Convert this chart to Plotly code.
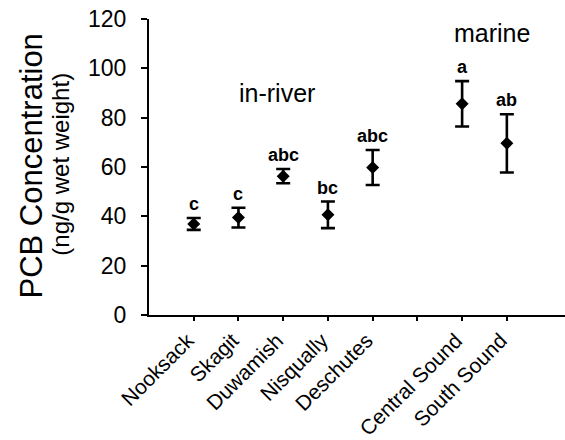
import plotly.graph_objects as go

categories = ["Nooksack", "Skagit", "Duwamish", "Nisqually", "Deschutes", "", "Central Sound", "South Sound"]
positions = [1, 2, 3, 4, 5, 7, 8]
site_names = ["Nooksack", "Skagit", "Duwamish", "Nisqually", "Deschutes", "Central Sound", "South Sound"]
pcb_mean = [36.9, 39.5, 56.3, 40.6, 59.8, 85.6, 69.6]
pcb_se = [2.4, 4.0, 2.9, 5.4, 7.1, 9.2, 11.8]
group_letters = ["c", "c", "abc", "bc", "abc", "a", "ab"]
y_ticks = [0, 20, 40, 60, 80, 100, 120]

FONT = "Liberation Sans, Arial, sans-serif"

fig = go.Figure()
fig.add_trace(go.Scatter(
    x=positions, y=pcb_mean, mode="markers",
    marker=dict(symbol="diamond", size=10, color="black"),
    error_y=dict(type="data", array=pcb_se, visible=True, color="black",
                 thickness=2.6, width=7),
    text=site_names, hoverinfo="text+y", showlegend=False,
))

annotations = []
for xp, m, e, lab in zip(positions, pcb_mean, pcb_se, group_letters):
    annotations.append(dict(x=xp, y=m + e, xref="x", yref="y", text="<b>%s</b>" % lab,
                            showarrow=False, yanchor="bottom", yshift=2,
                            font=dict(family=FONT, size=18, color="black")))

annotations.append(dict(x=2.87, y=90.2, xref="x", yref="y", text="in-river", showarrow=False,
                        font=dict(family=FONT, size=25, color="black")))
annotations.append(dict(x=7.67, y=114.5, xref="x", yref="y", text="marine", showarrow=False,
                        font=dict(family=FONT, size=25, color="black")))

annotations.append(dict(x=0, y=0.5017, xref="paper", yref="paper", xshift=-118,
                        text="PCB Concentration", textangle=-90, showarrow=False,
                        xanchor="center", yanchor="middle",
                        font=dict(family=FONT, size=31, color="black")))
annotations.append(dict(x=0, y=0.508, xref="paper", yref="paper", xshift=-88,
                        text="(ng/g wet weight)", textangle=-90, showarrow=False,
                        xanchor="center", yanchor="middle",
                        font=dict(family=FONT, size=24, color="black")))

fig.update_layout(
    width=565, height=440,
    margin=dict(l=149, r=0, t=19, b=125),
    paper_bgcolor="white", plot_bgcolor="white",
    font=dict(family=FONT, color="black"),
    annotations=annotations,
    xaxis=dict(
        range=[0, 9.3], tickmode="array", tickvals=list(range(1, 9)), ticktext=categories,
        tickangle=-45, showgrid=False, zeroline=False, showline=True, automargin=False,
        linecolor="black", linewidth=2, ticks="outside", ticklen=4, tickwidth=1.5,
        tickcolor="black", tickfont=dict(family=FONT, size=21, color="black"),
        ticklabelstandoff=-1, ticklabelshift=-6,
    ),
    yaxis=dict(
        range=[0, 120], tickmode="array", tickvals=y_ticks, automargin=False,
        showgrid=False, zeroline=False, showline=True,
        linecolor="black", linewidth=2, ticks="outside", ticklen=6, tickwidth=2,
        tickcolor="black", tickfont=dict(family=FONT, size=23, color="black"),
        ticklabelstandoff=10,
    ),
)

fig.write_html("out.html", config={"displayModeBar": False},
               post_script="document.body.style.margin='0';document.body.style.overflow='hidden';")
